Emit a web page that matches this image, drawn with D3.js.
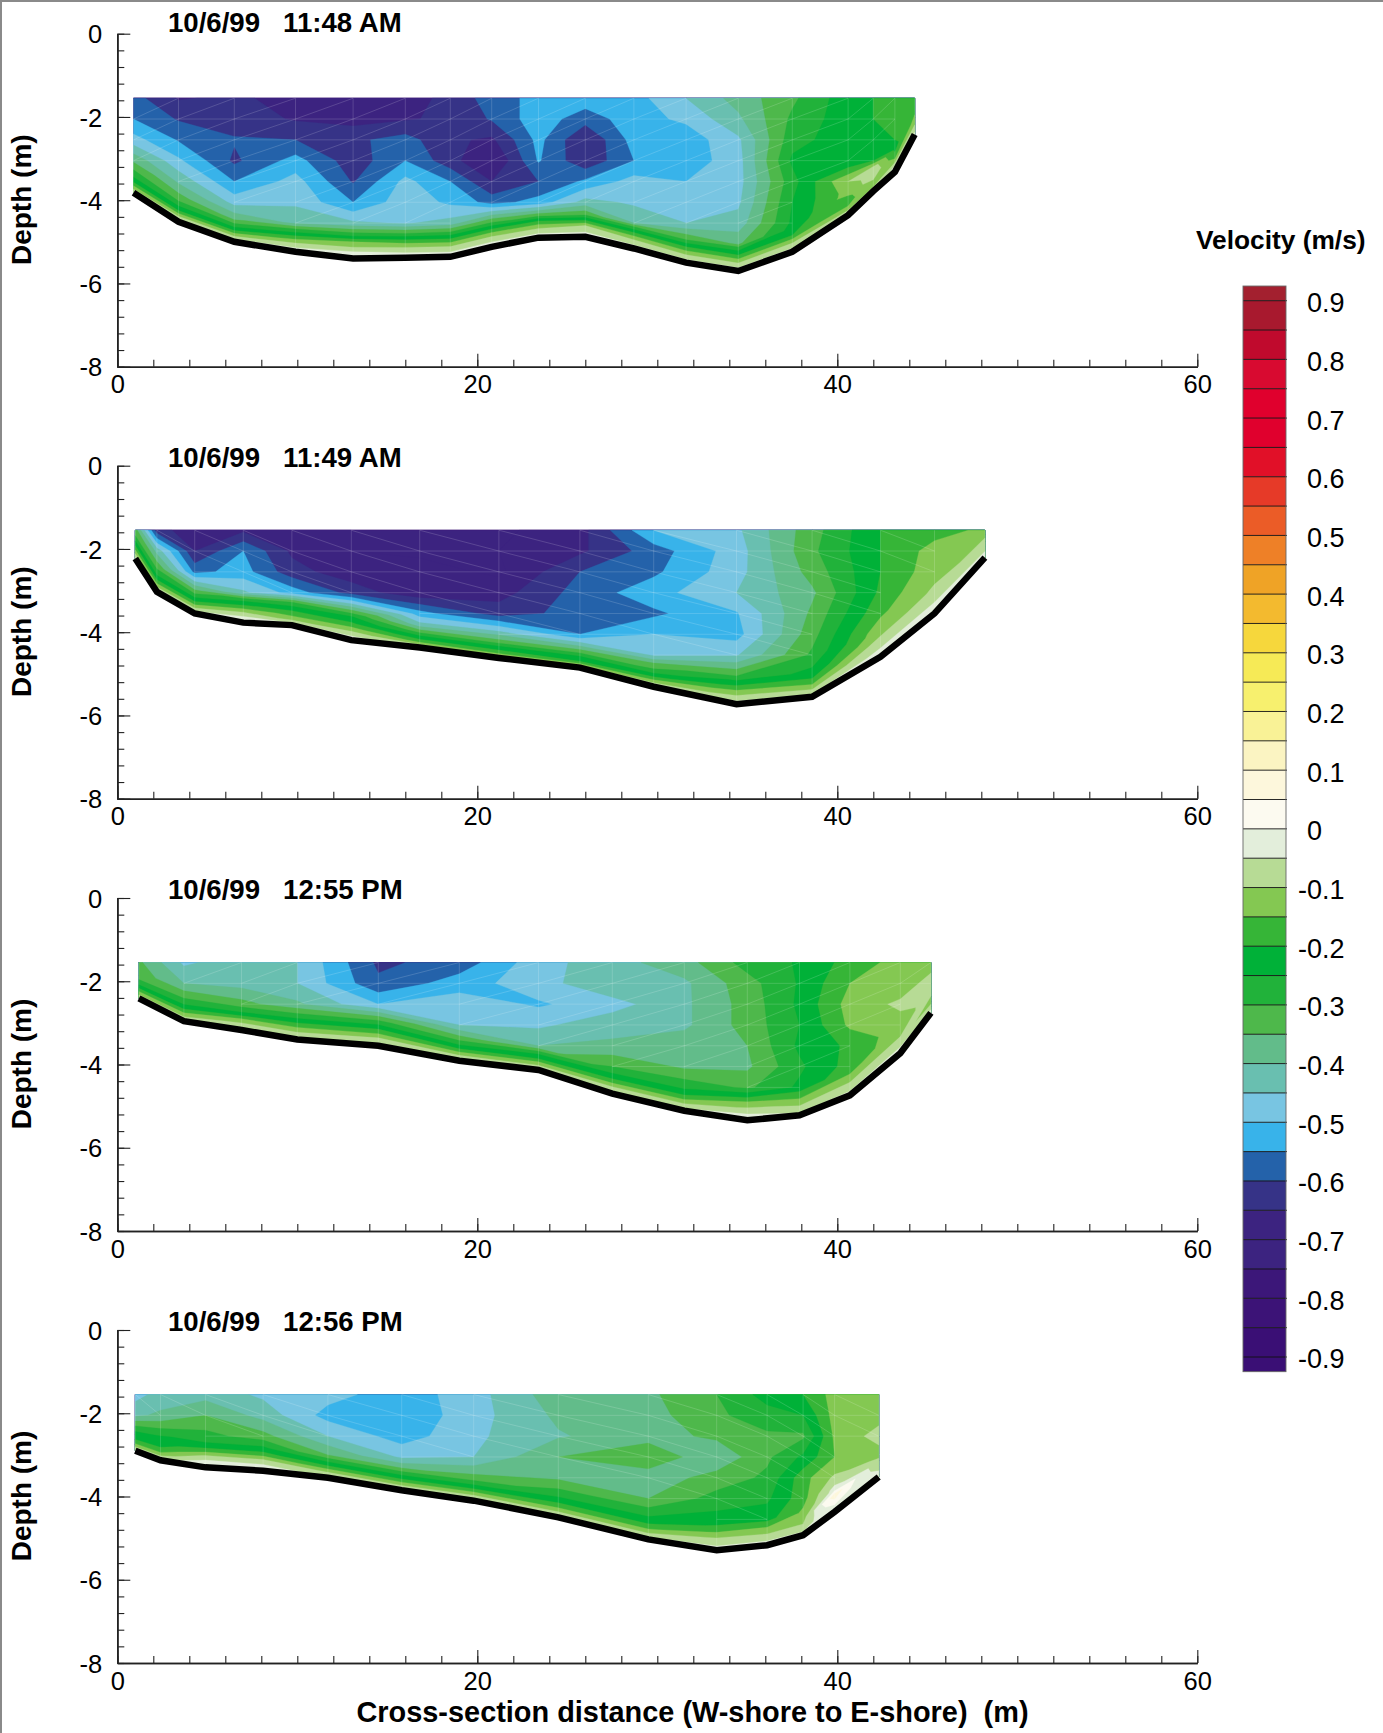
<!DOCTYPE html>
<html><head><meta charset="utf-8">
<style>html,body{margin:0;padding:0;background:#fff}svg{display:block}text{font-family:"Liberation Sans",Arial,sans-serif;fill:#000}</style>
<script src="https://cdn.jsdelivr.net/npm/d3@7/dist/d3.min.js"></script>
</head><body><svg id="chart" width="1383" height="1733"></svg>
<script>
// ---------- shared data ----------
const titles = ["10/6/99   11:48 AM","10/6/99   11:49 AM","10/6/99   12:55 PM","10/6/99   12:56 PM"];
const xTicks = [0,20,40,60];
const yTicks = [0,-2,-4,-6,-8];
const legendTicks = [0.9,0.8,0.7,0.6,0.5,0.4,0.3,0.2,0.1,0,-0.1,-0.2,-0.3,-0.4,-0.5,-0.6,-0.7,-0.8,-0.9];
const surfaceDepth = -1.55;
const binSize = 0.5;
const nearBedHeights = [0.55,0.4,0.27,0.15,0.05,0];
// band colours from lowest band (-0.95..-0.90) to highest (0.90..0.95)
const bandColors = ["#3a0f75","#3a0f75","#3c1377","#3c1779","#3c2380","#3c2380","#363387","#2462aa","#38b3ea","#78c5e2","#69bfb0","#62bc8a","#4eb84b","#21b23a","#00b138","#36b537","#84c852","#b7db95","#e3eedb","#fcfaf0","#fdf7dc","#fbf4c2","#f9f296","#f7f06e","#f6ea56","#f6d73c","#f3ba2f","#efa326","#ee8027","#eb5c27","#e63a28","#e11028","#e0002d","#e0002d","#d80a30","#c00a2d","#a8192e","#a3202f"];

// ---------- panel 1 ----------
const stations1 = [0.9,3.4,6.5,9.9,13.1,16,18.5,20.8,23.4,26,28.7,31.6,34.5,37.5,40.6,42,43.2,44.3];
const bed1 = [-3.82,-4.52,-5.0,-5.24,-5.4,-5.38,-5.36,-5.12,-4.9,-4.88,-5.16,-5.5,-5.7,-5.24,-4.36,-3.78,-3.32,-2.42];
const upper1 = [
 [-.58,-.55,-.48,-.36],
 [-.655,-.605,-.555,-.49,-.41],
 [-.64,-.625,-.595,-.61,-.55,-.47],
 [-.67,-.655,-.6,-.53,-.48,-.46,-.41],
 [-.68,-.67,-.61,-.63,-.605,-.55,-.44],
 [-.68,-.655,-.58,-.55,-.485,-.47,-.455],
 [-.63,-.64,-.64,-.63,-.55,-.51,-.43],
 [-.58,-.595,-.66,-.71,-.65,-.57],
 [-.53,-.52,-.535,-.545,-.6,-.53],
 [-.52,-.58,-.65,-.64,-.54,-.43],
 [-.52,-.52,-.53,-.55,-.48,-.46,-.4],
 [-.45,-.49,-.53,-.53,-.5,-.47,-.45],
 [-.38,-.41,-.46,-.47,-.47,-.46,-.43,-.36],
 [-.31,-.29,-.27,-.24,-.27,-.25,-.24],
 [-.22,-.22,-.22,-.25,-.1],
 [-.2,-.2,-.21,-.2],
 [-.2,-.2,-.2],
 [-.18]];
const near1 = [
 [-.3,-.26,-.21,-.14,-.08,-.05],
 [-.32,-.26,-.2,-.11,-.05,-.03],
 [-.36,-.28,-.2,-.11,-.04,-.02],
 [-.3,-.21,-.13,-.07,-.03,-.02],
 [-.26,-.15,-.1,-.045,-.02,-.01],
 [-.28,-.18,-.11,-.06,-.03,-.02],
 [-.27,-.18,-.11,-.06,-.03,-.02],
 [-.28,-.18,-.11,-.06,-.03,-.02],
 [-.33,-.2,-.12,-.07,-.03,-.02],
 [-.32,-.2,-.1,-.06,-.03,-.02],
 [-.32,-.21,-.13,-.07,-.04,-.02],
 [-.3,-.21,-.14,-.08,-.04,-.02],
 [-.28,-.21,-.14,-.08,-.04,-.02],
 [-.23,-.2,-.13,-.07,-.04,-.02],
 [-.13,-.17,-.17,-.12,-.06,-.03],
 [-.07,-.05,-.1,-.13,-.07,-.03],
 [-.21,-.19,-.13,-.05,-.03,-.02],
 [-.16,-.14,-.11,-.08,-.05,-.02]];

// ---------- panel 2 ----------
const stations2 = [1.0,2.2,4.3,7,9.7,13,16.8,21.2,25.7,29.8,34.4,38.6,42.4,45.4,48.2];
const bed2 = [-2.23,-3.03,-3.55,-3.77,-3.83,-4.19,-4.37,-4.62,-4.85,-5.31,-5.73,-5.55,-4.59,-3.55,-2.21];
const upper2 = [
 [-.32],
 [-.63,-.42],
 [-.68,-.65,-.565],
 [-.66,-.55,-.53,-.44],
 [-.69,-.66,-.63,-.52],
 [-.7,-.7,-.68,-.62],
 [-.71,-.71,-.68,-.69,-.53],
 [-.71,-.7,-.71,-.67,-.625,-.42],
 [-.67,-.66,-.6,-.58,-.58,-.55],
 [-.5,-.575,-.56,-.52,-.56,-.5,-.46],
 [-.46,-.475,-.47,-.45,-.505,-.52,-.455,-.3],
 [-.32,-.31,-.33,-.36,-.34,-.32,-.29],
 [-.2,-.2,-.2,-.19,-.16],
 [-.17,-.13,-.12],
 [-.14]];
const near2 = [
 [-.3,-.24,-.18,-.12,-.06,-.04],
 [-.3,-.25,-.19,-.12,-.06,-.04],
 [-.34,-.26,-.19,-.11,-.05,-.03],
 [-.27,-.19,-.11,-.05,-.03,-.02],
 [-.3,-.22,-.17,-.12,-.05,-.03],
 [-.24,-.19,-.13,-.07,-.03,-.02],
 [-.43,-.33,-.24,-.17,-.08,-.05],
 [-.4,-.33,-.24,-.18,-.11,-.05],
 [-.42,-.33,-.25,-.2,-.1,-.05],
 [-.34,-.29,-.22,-.14,-.07,-.04],
 [-.24,-.18,-.12,-.08,-.04,-.02],
 [-.23,-.19,-.14,-.09,-.05,-.03],
 [-.11,-.08,-.06,-.04,-.03,-.02],
 [-.09,-.07,-.05,-.04,-.03,-.02],
 [-.11,-.09,-.07,-.05,-.04,-.03]];

// ---------- panel 3 ----------
const stations3 = [1.2,3.7,6.9,10,14.5,19,23.4,27.5,31.5,35,37.9,40.7,43.5,45.2];
const bed3 = [-2.41,-2.96,-3.17,-3.4,-3.55,-3.91,-4.13,-4.7,-5.11,-5.34,-5.22,-4.74,-3.73,-2.76];
const upper3 = [
 [-.34],
 [-.46,-.4],
 [-.42,-.42,-.33],
 [-.45,-.45,-.39],
 [-.61,-.59,-.5],
 [-.58,-.525,-.47,-.45],
 [-.47,-.47,-.507,-.46,-.4],
 [-.42,-.41,-.47,-.42,-.39,-.3],
 [-.37,-.41,-.41,-.41,-.37,-.36],
 [-.28,-.32,-.33,-.33,-.35,-.36,-.31],
 [-.245,-.245,-.24,-.25,-.24,-.26,-.24],
 [-.18,-.15,-.13,-.14,-.19,-.18],
 [-.13,-.13,-.09,-.12],
 [-.12,-.08]];
const near3 = [
 [-.32,-.29,-.22,-.14,-.08,-.05],
 [-.3,-.25,-.19,-.12,-.07,-.04],
 [-.3,-.24,-.15,-.09,-.05,-.03],
 [-.27,-.2,-.14,-.09,-.05,-.03],
 [-.27,-.2,-.14,-.08,-.05,-.03],
 [-.33,-.26,-.19,-.11,-.06,-.03],
 [-.38,-.26,-.2,-.12,-.07,-.04],
 [-.27,-.22,-.16,-.09,-.05,-.03],
 [-.26,-.21,-.15,-.09,-.05,-.03],
 [-.2,-.13,-.09,-.05,-.03,-.02],
 [-.19,-.15,-.11,-.08,-.05,-.03],
 [-.16,-.12,-.09,-.06,-.04,-.03],
 [-.12,-.1,-.08,-.05,-.03,-.02],
 [-.08,-.1,-.12,-.08,-.04,-.02]];

// ---------- panel 4 ----------
const stations4 = [1,2.4,4.9,8.1,11.7,15.8,19.8,24.5,29.5,33.3,36.1,38.1,39.85,42.3];
const bed4 = [-2.9,-3.13,-3.3,-3.38,-3.55,-3.85,-4.1,-4.5,-5.03,-5.29,-5.17,-4.93,-4.37,-3.53];
const upper4 = [
 [-.47,-.41],
 [-.43,-.39],
 [-.42,-.35,-.28],
 [-.46,-.42,-.33],
 [-.48,-.52,-.45],
 [-.53,-.54,-.525,-.46],
 [-.47,-.47,-.46,-.45],
 [-.37,-.39,-.405,-.35,-.36],
 [-.36,-.37,-.37,-.31,-.38,-.35],
 [-.3,-.31,-.34,-.39,-.33,-.28,-.23],
 [-.23,-.27,-.31,-.31,-.29,-.26,-.22],
 [-.2,-.25,-.31,-.24,-.17,-.17],
 [-.13,-.13,-.14,-.15,-.09],
 [-.12,-.12,-.08]];
const near4 = [
 [-.28,-.23,-.2,-.14,-.07,-.05],
 [-.24,-.22,-.19,-.13,-.06,-.03],
 [-.24,-.17,-.09,-.04,-.03,-.02],
 [-.24,-.18,-.1,-.05,-.03,-.02],
 [-.35,-.26,-.19,-.11,-.06,-.04],
 [-.36,-.27,-.2,-.12,-.06,-.04],
 [-.33,-.26,-.19,-.11,-.06,-.04],
 [-.27,-.22,-.17,-.11,-.05,-.03],
 [-.25,-.21,-.16,-.1,-.05,-.03],
 [-.19,-.14,-.09,-.06,-.04,-.03],
 [-.19,-.14,-.1,-.06,-.04,-.03],
 [-.14,-.12,-.1,-.07,-.04,-.03],
 [-.03,.08,.04,-.01,-.04,-.06],
 [-.12,-.09,-.07,-.05,-.04,-.03]];

const panels = [
 {title:titles[0],stations:stations1,bed:bed1,upper:upper1,near:near1,top:33.7,titleY:22,rise:true},
 {title:titles[1],stations:stations2,bed:bed2,upper:upper2,near:near2,top:465.7,titleY:457,rise:false},
 {title:titles[2],stations:stations3,bed:bed3,upper:upper3,near:near3,top:898,titleY:889,rise:true},
 {title:titles[3],stations:stations4,bed:bed4,upper:upper4,near:near4,top:1330,titleY:1321,rise:false}
];

// ---------- drawing ----------
const svg = d3.select("#chart");
const plotLeft = 117.3, plotWidth = 1080, plotHeight = 333;
const tickFont = 25.5;
const levels = d3.range(bandColors.length).map(k => +(-0.95 + k*0.05).toFixed(2));

svg.append("path").attr("d","M1,1733V1H1383").attr("fill","none").attr("stroke","#8a8a8a").attr("stroke-width",2);

panels.forEach((p,idx) => {
  const x = d3.scaleLinear().domain([0,60]).range([plotLeft,plotLeft+plotWidth]);
  const y = d3.scaleLinear().domain([0,-8]).range([p.top,p.top+plotHeight]);
  const g = svg.append("g");
  const nCols = p.stations.length;
  const nUpper = d3.max(p.upper,u=>u.length);
  const nRows = nUpper + nearBedHeights.length;
  const zNode = [], vNode = [];
  for (let j=0;j<nRows;j++){ zNode.push(new Array(nCols)); vNode.push(new Array(nCols)); }
  for (let i=0;i<nCols;i++){
    const depth = surfaceDepth - p.bed[i];
    const k = Math.min(1, depth/0.6);
    const stackTop = p.bed[i] + k*nearBedHeights[0];
    for (let j=0;j<nUpper;j++){
      if (j < p.upper[i].length){
        zNode[j][i] = Math.max(surfaceDepth - binSize*j, stackTop);
        vNode[j][i] = p.upper[i][j];
      } else { zNode[j][i] = stackTop; vNode[j][i] = p.near[i][0]; }
    }
    nearBedHeights.forEach((h,m)=>{
      zNode[nUpper+m][i] = p.bed[i] + k*h;
      vNode[nUpper+m][i] = p.near[i][m];
    });
  }
  const flat = [];
  for (let j=0;j<nRows;j++) for (let i=0;i<nCols;i++) flat.push(vNode[j][i]);
  const contours = d3.contours().size([nCols,nRows]).smooth(true).thresholds(levels)(flat);
  const project = d3.geoTransform({point(px,py){
    const a = Math.min(nCols-1,Math.max(0,px-0.5));
    const b = Math.min(nRows-1,Math.max(0,py-0.5));
    const i = Math.min(nCols-2,Math.floor(a)), j = Math.min(nRows-2,Math.floor(b));
    const fa = a-i, fb = b-j;
    const z = (1-fb)*((1-fa)*zNode[j][i]+fa*zNode[j][i+1]) + fb*((1-fa)*zNode[j+1][i]+fa*zNode[j+1][i+1]);
    const st = (1-fa)*p.stations[i]+fa*p.stations[i+1];
    this.stream.point(x(st),y(z));
  }});
  const path = d3.geoPath(project);
  g.append("g").selectAll("path").data(contours).join("path")
    .attr("d",path).attr("fill",(d,k)=>bandColors[k]).attr("stroke",(d,k)=>bandColors[k]).attr("stroke-width",0.3);

  // mesh lines
  const line = d3.line();
  const segs = [];
  for (let i=0;i<nCols;i++) segs.push([[x(p.stations[i]),y(surfaceDepth)],[x(p.stations[i]),y(p.bed[i])]]);
  for (let i=0;i<nCols-1;i++){
    const n = Math.min(p.upper[i].length,p.upper[i+1].length);
    for (let j=1;j<n;j++) segs.push([[x(p.stations[i]),y(zNode[j][i])],[x(p.stations[i+1]),y(zNode[j][i+1])]]);
    for (let j=0;j<n-1;j++){
      if (p.rise) segs.push([[x(p.stations[i]),y(zNode[j+1][i])],[x(p.stations[i+1]),y(zNode[j][i+1])]]);
      else segs.push([[x(p.stations[i]),y(zNode[j][i])],[x(p.stations[i+1]),y(zNode[j+1][i+1])]]);
    }
  }
  g.append("path").attr("d",segs.map(s=>line(s)).join("")).attr("fill","none")
    .attr("stroke","#fff").attr("stroke-opacity",0.2).attr("stroke-width",0.8);

  // river bed
  g.append("path").datum(p.stations.map((s,i)=>[x(s),y(p.bed[i])])).attr("d",line)
    .attr("fill","none").attr("stroke","#000").attr("stroke-width",6.5).attr("stroke-linejoin","miter");

  // axes
  const xg = g.append("g").attr("transform",`translate(0,${p.top+plotHeight})`);
  xg.call(d3.axisBottom(x).tickValues(d3.range(0,61,2)).tickSizeInner(-7).tickSizeOuter(0).tickFormat(""));
  xg.append("g").call(d3.axisBottom(x).tickValues(xTicks).tickSizeInner(-13).tickSizeOuter(0).tickPadding(8.7).tickFormat(d=>String(d)));
  const yg = g.append("g").attr("transform",`translate(${plotLeft},0)`);
  yg.call(d3.axisLeft(y).tickValues(d3.range(21).map(k=>-k*0.4)).tickSizeInner(-7).tickSizeOuter(0).tickFormat(""));
  const ym = yg.append("g").call(d3.axisLeft(y).tickValues(yTicks).tickSizeInner(-13).tickSizeOuter(0).tickPadding(15).tickFormat(d=>String(d)));
  ym.selectAll("text").attr("dy","0.36em");
  g.selectAll(".domain").attr("stroke","#222").attr("stroke-width",1.6);
  g.selectAll(".tick line").attr("stroke","#222").attr("stroke-width",1.1);
  g.selectAll(".tick text").attr("font-size",tickFont).attr("font-family","Liberation Sans").attr("fill","#000");

  // titles
  g.append("text").attr("x",168).attr("y",p.titleY).attr("dy","0.35em").attr("font-size",27.6).attr("font-weight","bold")
    .style("white-space","pre").text(p.title);
  g.append("text").attr("transform",`translate(21,${p.top+166}) rotate(-90)`).attr("text-anchor","middle").attr("dy","0.35em")
    .attr("font-size",28).attr("font-weight","bold").text("Depth (m)");
});

svg.append("text").attr("x",692.5).attr("y",1712).attr("dy","0.35em").attr("text-anchor","middle")
  .attr("font-size",28.9).attr("font-weight","bold").style("white-space","pre")
  .text("Cross-section distance (W-shore to E-shore)  (m)");

// colour legend
const legendY = d3.scaleLinear().domain([0.9,-0.9]).range([300.7,1357]);
const lg = svg.append("g");
const barL = 1243, barR = 1286;
lg.selectAll("rect.band").data(levels).join("rect").attr("class","band")
  .attr("x",barL).attr("width",barR-barL)
  .attr("y",d=>legendY(Math.min(d+0.05,0.925)))
  .attr("height",d=>legendY(Math.max(d,-0.925))-legendY(Math.min(d+0.05,0.925)))
  .attr("fill",(d,k)=>bandColors[k]);
lg.selectAll("line.lvl").data(levels.filter(d=>d>=-0.9&&d<=0.9)).join("line").attr("class","lvl")
  .attr("x1",barL).attr("x2",barR+1).attr("y1",d=>legendY(d)).attr("y2",d=>legendY(d)).attr("stroke","#111").attr("stroke-width",0.9);
lg.append("rect").attr("x",barL).attr("y",legendY(0.925)).attr("width",barR-barL).attr("height",legendY(-0.925)-legendY(0.925))
  .attr("fill","none").attr("stroke","#666").attr("stroke-width",0.9);
lg.selectAll("text.lab").data(legendTicks).join("text").attr("class","lab")
  .attr("x",d=>d<0?1298:1307).attr("y",d=>legendY(d)+2).attr("dy","0.35em").attr("font-size",27).text(d=>String(d));
lg.append("text").attr("x",1196).attr("y",240).attr("dy","0.35em").attr("font-size",26.3).attr("font-weight","bold").text("Velocity (m/s)");
</script></body></html>
